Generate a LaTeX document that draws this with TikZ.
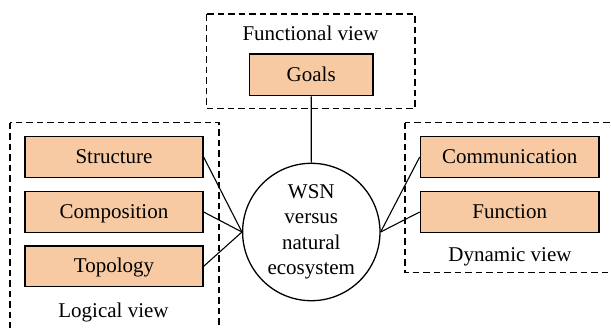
\documentclass[tikz,border=0pt]{standalone}
\usepackage{fontspec}
\setmainfont{Liberation Serif}
\definecolor{boxfill}{HTML}{F8CAA3}
\begin{document}
\begin{tikzpicture}[x=1pt,y=-1pt,
  every node/.style={font=\fontsize{21}{25.5}\selectfont},
  item/.style={draw=black, line width=1.3pt, fill=boxfill, minimum width=178pt, minimum height=40.6pt, inner sep=0pt, text height=15pt, text depth=2.4pt},
  viewbox/.style={draw=black, line width=1.2pt, dash pattern=on 6.5pt off 4pt},
  link/.style={draw=black, line width=1.1pt},
  hub/.style={draw=black, line width=1.3pt, circle, minimum size=137.4pt, inner sep=0pt, align=center, fill=white}
]
\useasboundingbox (0,0) rectangle (611,327);
\clip (0,0) rectangle (611,327);
% dashed view boxes
\draw[viewbox] (206.5,14) rectangle (415,108.3);
\draw[viewbox] (10,122.7) rectangle (219,345);
\draw[viewbox] (405,122.7) rectangle (625,272.7);
% view labels
\node[anchor=base, inner sep=0pt] (lfun) at (310.5,40) {Functional view};
\node[anchor=base, inner sep=0pt] (llog) at (113.5,317.5) {Logical view};
\node[anchor=base, inner sep=0pt] (ldyn) at (510,261.7) {Dynamic view};
% boxes
\node[item, minimum width=123.7pt, minimum height=41.7pt] (goals) at (311.2,74.8) {Goals};
\node[item] (struct) at (114,157) {Structure};
\node[item] (comp) at (114,212) {Composition};
\node[item] (topo) at (114,266.3) {Topology};
\node[item, minimum width=178.7pt] (comm) at (509.7,157) {Communication};
\node[item, minimum width=178.7pt] (func) at (509.7,212) {Function};
% hub
\node[hub] (wsn) at (311.3,232) {WSN\\versus\\natural\\ecosystem};
% connectors
\draw[link] (goals.south) -- (wsn.north);
\draw[link] (struct.east) -- (wsn.west);
\draw[link] (comp.east) -- (wsn.west);
\draw[link] (topo.east) -- (wsn.west);
\draw[link] (comm.west) -- (wsn.east);
\draw[link] (func.west) -- (wsn.east);
\end{tikzpicture}
\end{document}
